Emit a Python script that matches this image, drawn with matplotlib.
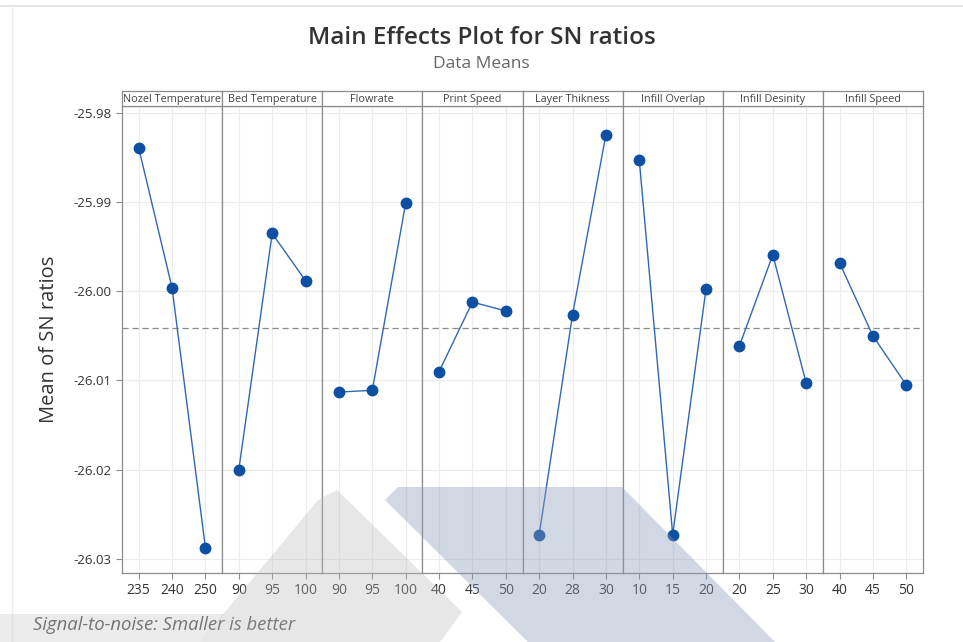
import matplotlib
matplotlib.use('Agg')
import matplotlib.pyplot as plt
from matplotlib.patches import Polygon
from matplotlib.lines import Line2D

plt.rcParams['font.family'] = ['Open Sans', 'DejaVu Sans']

# 数据
factors = ['Nozel Temperature', 'Bed Temperature', 'Flowrate', 'Print Speed',
           'Layer Thikness', 'Infill Overlap', 'Infill Desinity', 'Infill Speed']
levels = [['235', '240', '250'], ['90', '95', '100'], ['90', '95', '100'],
          ['40', '45', '50'], ['20', '28', '30'], ['10', '15', '20'],
          ['20', '25', '30'], ['40', '45', '50']]
sn_means = [[-25.9839, -25.9996, -26.0288],
            [-26.0200, -25.9935, -25.9988],
            [-26.0113, -26.0111, -25.9901],
            [-26.0090, -26.0012, -26.0022],
            [-26.0273, -26.0026, -25.9824],
            [-25.9853, -26.0273, -25.9997],
            [-26.0061, -25.9959, -26.0103],
            [-25.9968, -26.0050, -26.0105]]
grand_mean = -26.0041
yticks = [-25.98, -25.99, -26.00, -26.01, -26.02, -26.03]

W, H = 963, 642
fig = plt.figure(figsize=(W / 100, H / 100), dpi=100)

x0, x1 = 122, 923
top_strip, top_data, bottom = 91, 106, 573
pw = (x1 - x0) / len(factors)
edge = '#8c8c8c'
txt = '#333333'

for i, name in enumerate(factors):
    left = (x0 + i * pw) / W
    ax = fig.add_axes([left, 1 - bottom / H, pw / W, (bottom - top_data) / H])
    ax.set_xlim(-0.5, 2.5)
    ax.set_ylim(-26.0316, -25.9792)
    ax.axhline(grand_mean, color='#8a8a8a', ls=(0, (5, 3)), lw=0.9, zorder=1)
    ax.plot(range(3), sn_means[i], color='#2f68b4', lw=1.0, zorder=2)
    ax.plot(range(3), sn_means[i], 'o', color='#0c4fa3', ms=7.5, zorder=3)
    ax.set_xticks(range(3))
    ax.set_xticklabels(levels[i], fontsize=10, color=txt)
    ax.set_yticks(yticks)
    ax.grid(True, color='#ececec', lw=0.8, zorder=0)
    ax.set_axisbelow(True)
    for s in ax.spines.values():
        s.set_color(edge)
        s.set_linewidth(0.9)
    ax.tick_params(axis='x', colors=edge, labelcolor=txt, length=4, width=0.8, pad=3)
    if i == 0:
        ax.set_yticklabels(['%.2f' % v for v in yticks], fontsize=9.5, color=txt)
        ax.tick_params(axis='y', colors=edge, labelcolor=txt, length=4, width=0.8)
        ax.set_ylabel('Mean of SN ratios', fontsize=14.5, color=txt, labelpad=10)
    else:
        ax.tick_params(axis='y', length=0, labelleft=False)

    # 面板标题条
    sax = fig.add_axes([left, 1 - top_data / H, pw / W, (top_data - top_strip) / H])
    sax.set_xticks([])
    sax.set_yticks([])
    for s in sax.spines.values():
        s.set_color(edge)
        s.set_linewidth(0.9)
    sax.text(0.5, 0.45, name, ha='center', va='center', fontsize=7.8, color='#444444',
             transform=sax.transAxes)

fig.text(0.5, 1 - 38 / H, 'Main Effects Plot for SN ratios', ha='center', va='center',
         fontsize=17.5, color='#333333', fontweight='semibold')
fig.text(0.5, 1 - 64 / H, 'Data Means', ha='center', va='center',
         fontsize=12.5, color='#666666')
fig.text(33 / W, 1 - 625 / H, 'Signal-to-noise: Smaller is better', ha='left', va='center',
         fontsize=13.3, style='italic', color='#555555')


# 背景水印形状和截图边框
def px(pts):
    return [(x / W, 1 - y / H) for x, y in pts]


fig.patches.append(Polygon(px([(337, 490), (462, 612), (440, 642), (200, 642), (318, 500)]),
                           closed=True, transform=fig.transFigure, facecolor='#bdbdbd',
                           alpha=0.35, edgecolor='none', zorder=5))
fig.patches.append(Polygon(px([(0, 614), (225, 614), (200, 642), (0, 642)]),
                           closed=True, transform=fig.transFigure, facecolor='#bdbdbd',
                           alpha=0.3, edgecolor='none', zorder=5))
fig.patches.append(Polygon(px([(398, 487), (622, 487), (775, 642), (528, 642), (385, 500)]),
                           closed=True, transform=fig.transFigure, facecolor='#8e9bbb',
                           alpha=0.4, edgecolor='none', zorder=5))
fig.lines.append(Line2D(*zip(*px([(0, 6), (963, 6)])), transform=fig.transFigure,
                        color='#e4e4e4', lw=1.5))
fig.lines.append(Line2D(*zip(*px([(12, 8), (12, 642)])), transform=fig.transFigure,
                        color='#eeeeee', lw=1.0))

fig.savefig('out.png', dpi=100, facecolor='white')
